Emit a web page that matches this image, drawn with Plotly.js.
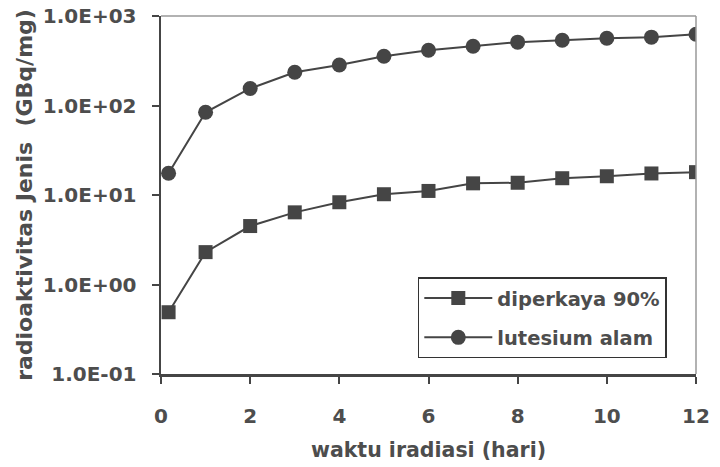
<!DOCTYPE html>
<html>
<head>
<meta charset="utf-8">
<script src="https://cdn.plot.ly/plotly-3.0.1.min.js"></script>
<style>html,body{margin:0;padding:0;background:#fff}#chart{width:720px;height:467px}</style>
</head>
<body>
<div id="chart"></div>
<script>
const days = [0.17, 1, 2, 3, 4, 5, 6, 7, 8, 9, 10, 11, 12];
const diperkaya = [0.49, 2.3, 4.5, 6.4, 8.3, 10.2, 11.1, 13.5, 13.7, 15.4, 16.2, 17.4, 18.0];
const lutesium = [17.5, 84, 155, 235, 284, 355, 415, 460, 510, 535, 565, 580, 625];
const yTickVals = [0.1, 1, 10, 100, 1000];
const yTickText = ["1.0E-01", "1.0E+00", "1.0E+01", "1.0E+02", "1.0E+03"];
const xTickVals = [0, 2, 4, 6, 8, 10, 12];

const ink = '#454545';
const txt = '#4d4d4d';
const fam = '"DejaVu Sans", "Liberation Sans", Arial, sans-serif';
const tickFont = {family: fam, size: 20, color: txt, weight: 'bold'};
const xTitleFont = {family: fam, size: 20.5, color: txt, weight: 'bold'};
const yTitleFont = {family: fam, size: 22, color: txt, weight: 'bold'};

const traces = [
  {x: days, y: diperkaya, name: 'diperkaya 90%', legendgroup: 'a', type: 'scatter', mode: 'lines+markers',
   line: {color: ink, width: 2}, marker: {symbol: 'square', size: 14, color: ink}},
  {x: days, y: lutesium, name: 'lutesium alam', legendgroup: 'b', type: 'scatter', mode: 'lines+markers',
   line: {color: ink, width: 2}, marker: {symbol: 'circle', size: 15, color: ink}}
];

const layout = {
  width: 720, height: 467,
  margin: {l: 161, r: 24, t: 16, b: 93},
  paper_bgcolor: '#fff', plot_bgcolor: '#fff',
  font: tickFont,
  showlegend: true,
  legend: {x: 0.48, y: 0.27, xanchor: 'left', yanchor: 'top', bgcolor: '#fff',
           bordercolor: '#333', borderwidth: 1.5,
           font: {family: fam, size: 19.5, color: txt, weight: 'bold'},
           tracegroupgap: 11, itemwidth: 68},
  xaxis: {range: [0, 12], tickvals: xTickVals, ticks: 'outside', ticklen: 7, tickwidth: 2, tickcolor: ink,
          showline: true, linecolor: ink, linewidth: 2.5, showgrid: false, zeroline: false,
          ticklabelstandoff: 15, tickfont: tickFont,
          title: {text: 'waktu iradiasi (hari)', font: xTitleFont, standoff: 16}},
  yaxis: {type: 'log', range: [-1, 3], tickvals: yTickVals, ticktext: yTickText, ticks: 'outside', ticklen: 7,
          tickwidth: 2, tickcolor: ink, showline: true, linecolor: ink, linewidth: 2.5, showgrid: false,
          zeroline: false, ticklabelstandoff: 11, tickfont: tickFont,
          title: {text: 'radioaktivitas Jenis  (GBq/mg)', font: yTitleFont, standoff: 4}},
  shapes: [
    {type: 'line', xref: 'paper', yref: 'paper', x0: 0, x1: 1, y0: 1, y1: 1, line: {color: '#999', width: 1.5}},
    {type: 'line', xref: 'paper', yref: 'paper', x0: 1, x1: 1, y0: 0, y1: 1, line: {color: '#999', width: 1.5}}
  ]
};

Plotly.newPlot('chart', traces, layout, {staticPlot: true, displayModeBar: false});
</script>
</body>
</html>
